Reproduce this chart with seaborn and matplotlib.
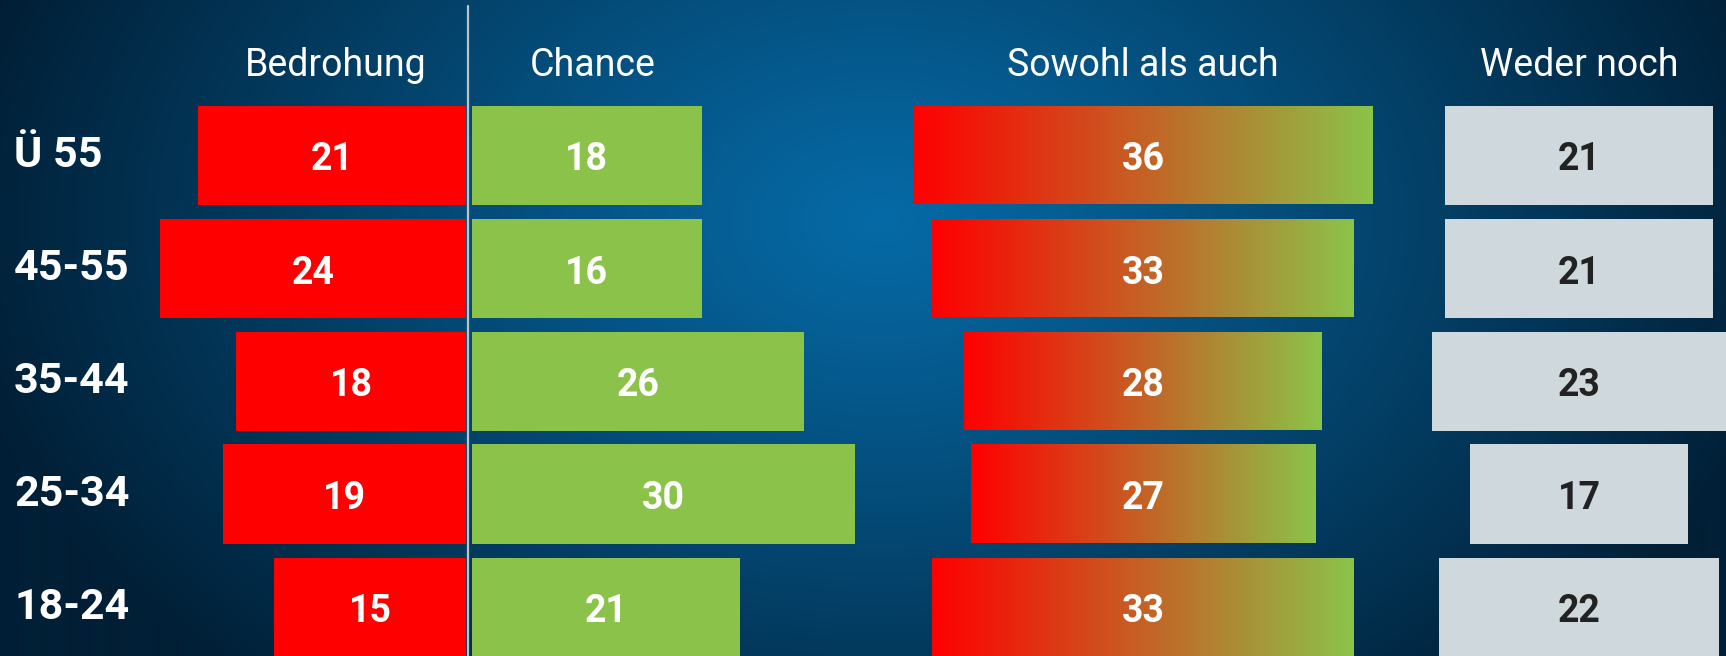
import numpy as np
import matplotlib
matplotlib.use("Agg")
import matplotlib.pyplot as plt
import seaborn as sns

# ---------------- data ----------------
categories = ["Ü 55", "45-55", "35-44", "25-34", "18-24"]
headers = ["Bedrohung", "Chance", "Sowohl als auch", "Weder noch"]
bedrohung = [21, 24, 18, 19, 15]
chance = [18, 16, 26, 30, 21]
# bar lengths as drawn in the source picture (the "16" bar is drawn as long as the "18" bar)
chance_drawn = [18, 18, 26, 30, 21]
sowohl = [36, 33, 28, 27, 33]
weder = [21, 21, 23, 17, 22]

# ---------------- layout ----------------
W, H = 1726, 656
DPI = 100
PX_PER_UNIT = 12.77
ROW0 = 155.0      # px from top of first row centre
PITCH = 113.0     # px between rows
BAR_H = 99.0 / PITCH

sns.set_theme(style="white")
plt.rcParams["font.family"] = ["Roboto", "DejaVu Sans"]

fig = plt.figure(figsize=(W / DPI, H / DPI), dpi=DPI)

# background radial gradient
bg = fig.add_axes([0, 0, 1, 1], zorder=0)
yy, xx = np.mgrid[0:H, 0:W]
cx, cy, rx, ry = 880, 220, 930, 640
t = np.sqrt(((xx - cx) / rx) ** 2 + ((yy - cy) / ry) ** 2)
t = np.clip(t, 0, 1) ** 1.1
c_in = np.array([0x06, 0x6a, 0xa6]) / 255
c_out = np.array([0x01, 0x1f, 0x36]) / 255
img = c_in[None, None, :] * (1 - t[..., None]) + c_out[None, None, :] * t[..., None]
bg.imshow(img, extent=(0, W, H, 0), aspect="auto")
bg.set_xlim(0, W)
bg.set_ylim(H, 0)
bg.axis("off")

ylim = ((H - ROW0) / PITCH, -ROW0 / PITCH)


def make_ax(px0, px1):
    ax = fig.add_axes([px0 / W, 0, (px1 - px0) / W, 1], zorder=2)
    ax.patch.set_alpha(0)
    return ax


def finish(ax, xlim):
    ax.set_xlim(*xlim)
    ax.set_ylim(*ylim)
    ax.axis("off")


def value_labels(ax, xs, vals, color):
    for i, (x, v) in enumerate(zip(xs, vals)):
        ax.text(x, i + 15.5 / PITCH, str(v), ha="center", va="baseline",
                fontsize=27, fontweight="bold", color=color, zorder=5)


RED = "#ff0000"
GREEN = "#8bc34a"
GREY = "#cfd8dc"
bar_kw = dict(orient="h", saturation=1, width=BAR_H, linewidth=0, edgecolor="none")

# Bedrohung (bars grow leftwards from px 466)
axb = make_ax(0, 466)
sns.barplot(x=bedrohung, y=categories, color=RED, ax=axb, **bar_kw)
finish(axb, (466 / PX_PER_UNIT, 0))
value_labels(axb, [v / 2 for v in bedrohung], bedrohung, "white")

# Chance (bars grow rightwards from px 472)
axc = make_ax(472, 1000)
sns.barplot(x=chance_drawn, y=categories, color=GREEN, ax=axc, **bar_kw)
finish(axc, (0, 528 / PX_PER_UNIT))
value_labels(axc, [v / 2 for v in chance_drawn], chance, "white")

# Sowohl als auch (centred at px 1143, gradient)
s_c = 1143
axs = make_ax(s_c - 250, s_c + 250)
sns.barplot(x=sowohl, y=categories, color=RED, ax=axs, **bar_kw)
grad = np.linspace(0, 1, 256)
c0 = np.array([255, 0, 0]) / 255
c1 = np.array([139, 195, 74]) / 255
gimg = (c0[None, :] * (1 - grad[:, None]) + c1[None, :] * grad[:, None])[None, :, :]
for p in axs.patches:
    w = p.get_width()
    p.set_x(-w / 2)
    p.set_facecolor("none")
    y0, h = p.get_y(), p.get_height()
    im = axs.imshow(gimg, extent=(-w / 2, w / 2, y0 + h, y0), aspect="auto",
                    zorder=3, interpolation="bilinear")
    im.set_clip_path(p)
finish(axs, (-250 / PX_PER_UNIT, 250 / PX_PER_UNIT))
value_labels(axs, [0] * len(sowohl), sowohl, "white")

# Weder noch (centred at px 1579)
w_c = 1579
axw = make_ax(1380, W)
sns.barplot(x=weder, y=categories, color=GREY, ax=axw, **bar_kw)
for p in axw.patches:
    p.set_x(-p.get_width() / 2)
finish(axw, (-(w_c - 1380) / PX_PER_UNIT, (W - w_c) / PX_PER_UNIT))
value_labels(axw, [0] * len(weder), weder, "#222222")

# divider line
fig.add_artist(plt.Line2D([468 / W, 468 / W], [0, 1 - 6 / H], color="#b8c4cc",
                          lw=1.6, zorder=4))

# headers
for txt, px in zip(headers, [336, 593, 1143, 1579]):
    fig.text(px / W, 1 - 76 / H, txt, ha="center", va="baseline", fontsize=27,
             color="white", zorder=5)

# row labels
for i, c in enumerate(categories):
    ypx = ROW0 + i * PITCH + 12
    fig.text(14 / W, 1 - ypx / H, c, ha="left", va="baseline", fontsize=31,
             fontweight="bold", color="white", zorder=5)

fig.savefig("out.png", dpi=DPI)
